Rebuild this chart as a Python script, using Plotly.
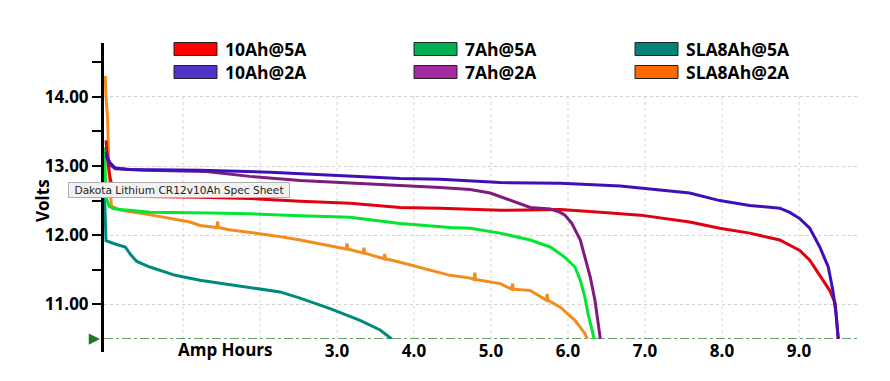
import plotly.graph_objects as go

# ---------------- data ----------------
series_names = ["10Ah@5A", "10Ah@2A", "7Ah@5A", "7Ah@2A", "SLA8Ah@5A", "SLA8Ah@2A"]

ah_10ah_5a = [0.0, 0.02, 0.05, 0.09, 0.2, 0.5, 1.22, 1.87, 2.52, 3.17, 3.82, 4.34, 5.12, 5.90,
              6.42, 6.94, 7.58, 7.97, 8.36, 8.75, 9.01, 9.14, 9.27, 9.40, 9.47, 9.51]
v_10ah_5a = [13.37, 13.10, 12.85, 12.65, 12.58, 12.56, 12.55, 12.53, 12.49, 12.46, 12.40, 12.39, 12.36, 12.37,
             12.33, 12.29, 12.19, 12.10, 12.03, 11.93, 11.78, 11.64, 11.42, 11.20, 11.02, 10.50]

ah_10ah_2a = [0.0, 0.02, 0.05, 0.12, 0.3, 1.22, 2.13, 2.91, 3.82, 4.34, 5.12, 5.90, 6.68, 7.58,
              7.97, 8.36, 8.75, 8.88, 9.01, 9.14, 9.27, 9.38, 9.44, 9.48, 9.51]
v_10ah_2a = [13.20, 13.12, 13.05, 12.97, 12.95, 12.94, 12.91, 12.87, 12.82, 12.81, 12.76, 12.75, 12.71, 12.61,
             12.50, 12.43, 12.39, 12.33, 12.24, 12.10, 11.83, 11.54, 11.20, 10.87, 10.50]

ah_7ah_5a = [-0.02, -0.01, 0.0, 0.04, 0.1, 0.3, 0.57, 1.35, 1.87, 2.52, 3.17, 3.82, 4.47, 4.73, 5.12,
             5.51, 5.77, 5.96, 6.09, 6.16, 6.22, 6.26, 6.31, 6.34]
v_7ah_5a = [13.27, 12.90, 12.55, 12.42, 12.38, 12.36, 12.33, 12.32, 12.31, 12.28, 12.26, 12.17, 12.11, 12.10, 12.03,
            11.93, 11.83, 11.68, 11.54, 11.35, 11.10, 10.87, 10.62, 10.50]

ah_7ah_2a = [0.0, 0.05, 0.12, 0.5, 1.3, 1.87, 2.52, 3.17, 3.82, 4.34, 4.73, 4.99, 5.25, 5.51, 5.77,
             5.90, 5.96, 6.05, 6.16, 6.22, 6.29, 6.35, 6.39, 6.42]
v_7ah_2a = [13.15, 13.02, 12.96, 12.94, 12.92, 12.85, 12.79, 12.75, 12.72, 12.69, 12.66, 12.61, 12.50, 12.40, 12.38,
            12.33, 12.29, 12.17, 11.93, 11.68, 11.39, 11.06, 10.73, 10.50]

ah_sla_5a = [-0.02, 0.0, 0.1, 0.25, 0.32, 0.4, 0.57, 0.9, 1.22, 1.87, 2.26, 2.52, 2.91, 3.30, 3.56, 3.71]
v_sla_5a = [12.60, 11.92, 11.88, 11.83, 11.72, 11.62, 11.54, 11.42, 11.35, 11.25, 11.18, 11.09, 10.94, 10.77, 10.63, 10.50]

ah_sla_2a = [-0.01, 0.0, 0.02, 0.04, 0.07, 0.2, 0.6, 1.09, 1.22, 1.44, 1.45, 1.46, 1.6, 1.87, 2.2, 2.52,
             3.12, 3.13, 3.14, 3.34, 3.35, 3.36, 3.61, 3.62, 3.63, 3.82, 4.34, 4.47, 4.73, 4.78, 4.79, 4.80,
             5.12, 5.27, 5.28, 5.29, 5.51, 5.72, 5.73, 5.74, 5.90, 6.09, 6.22, 6.25]
v_sla_2a = [14.30, 14.00, 13.70, 12.90, 12.42, 12.36, 12.29, 12.19, 12.14, 12.11, 12.20, 12.11, 12.08, 12.04, 11.99, 11.93,
            11.80, 11.88, 11.80, 11.74, 11.82, 11.74, 11.66, 11.73, 11.66, 11.61, 11.45, 11.42, 11.38, 11.36, 11.46, 11.36,
            11.30, 11.22, 11.30, 11.22, 11.20, 11.06, 11.15, 11.06, 10.96, 10.77, 10.58, 10.50]

y_tick_vals = [11, 12, 13, 14]
y_tick_text = ["11.00", "12.00", "13.00", "14.00"]
y_minor_vals = [11.5, 12.5, 13.5, 14.5]
x_tick_vals = [3, 4, 5, 6, 7, 8, 9]
x_tick_text = ["3.0", "4.0", "5.0", "6.0", "7.0", "8.0", "9.0"]
x_grid_vals = [1, 2, 3, 4, 5, 6, 7, 8, 9]
cutoff_v = 10.5
x_title = "Amp Hours"
y_title = "Volts"
note_text = "Dakota Lithium CR12v10Ah Spec Sheet"

# ---------------- styles ----------------
line_colors = ["#e00010", "#3d10b8", "#00e632", "#7d1c7d", "#008a7c", "#f28c1c"]
legend_colors = ["#ff0000", "#5032c8", "#00b050", "#a52aa0", "#00847a", "#ff6a00"]
FONT = "Open Sans"
NOTE_FONT = "DejaVu Sans"

# page body has an 8px default margin: shrink the figure so it fills the window exactly
PAGE_OFF = 8
WIN_W, WIN_H = 890, 381
W, H = WIN_W - PAGE_OFF, WIN_H - PAGE_OFF
# plot-area edges in window pixels
L, R, T, B = 104, 858, 43, 339
PX_PER_AH = 77.0
PX_PER_V = 69.2
X0_PX = 106.0

def px(xp):
    return (xp - L) / (R - L)

def py(yp):
    return (B - yp) / (B - T)

xs = [ah_10ah_5a, ah_10ah_2a, ah_7ah_5a, ah_7ah_2a, ah_sla_5a, ah_sla_2a]
vs = [v_10ah_5a, v_10ah_2a, v_7ah_5a, v_7ah_2a, v_sla_5a, v_sla_2a]

fig = go.Figure()
order = [5, 4, 2, 0, 3, 1]
for i in order:
    fig.add_trace(go.Scatter(x=xs[i], y=vs[i], mode="lines", name=series_names[i],
                             line=dict(color=line_colors[i], width=3), showlegend=False))

x_min = (L - X0_PX) / PX_PER_AH
x_max = (R - X0_PX) / PX_PER_AH
y_max = cutoff_v + (B - T) / PX_PER_V

shapes = []
annotations = []

for gx in x_grid_vals:
    shapes.append(dict(type="line", xref="x", yref="y", x0=gx, x1=gx, y0=cutoff_v, y1=14.06,
                       line=dict(color="#d4d4d4", width=1, dash="dot"), layer="below"))
shapes.append(dict(type="line", xref="x", yref="y", x0=x_min, x1=x_max, y0=cutoff_v, y1=cutoff_v,
                   line=dict(color="#3f7f3f", width=1.5, dash="dashdot"), layer="below"))
shapes.append(dict(type="line", xref="paper", yref="paper", x0=px(102.5), x1=px(102.5),
                   y0=0, y1=py(352), line=dict(color="black", width=3)))

col_rect_x = [174, 414, 635]
row_y = [49, 72]
for k, name in enumerate(series_names):
    col = [0, 0, 1, 1, 2, 2][k]
    row = [0, 1, 0, 1, 0, 1][k]
    x0 = col_rect_x[col]
    yc = row_y[row]
    shapes.append(dict(type="rect", xref="paper", yref="paper",
                       x0=px(x0), x1=px(x0 + 43), y0=py(yc + 6.5), y1=py(yc - 6.5),
                       fillcolor=legend_colors[k], line=dict(color="#222222", width=1)))
    annotations.append(dict(xref="paper", yref="paper", x=px(x0 + 49), y=py(yc),
                            xanchor="left", yanchor="middle", showarrow=False, text=name,
                            font=dict(family=FONT, size=17.5, color="black", weight="bold")))

annotations.append(dict(xref="paper", yref="paper", x=px(179), y=py(190), xanchor="center", yanchor="middle",
                        showarrow=False, text=note_text, width=220, height=14,
                        font=dict(family=NOTE_FONT, size=10.6, color="#222222"),
                        bgcolor="#f2f2f2", bordercolor="#b0b0b0", borderwidth=1, borderpad=0))
annotations.append(dict(xref="paper", yref="paper", x=px(42), y=py(201), xanchor="center", yanchor="middle",
                        showarrow=False, text=y_title, textangle=-90,
                        font=dict(family=FONT, size=17, color="black", weight="bold")))
annotations.append(dict(xref="paper", yref="paper", x=px(225), y=py(349), xanchor="center", yanchor="middle",
                        showarrow=False, text=x_title,
                        font=dict(family=FONT, size=17, color="black", weight="bold")))
annotations.append(dict(xref="paper", yref="y", x=px(100), y=cutoff_v, ax=-10, ay=0, text="",
                        showarrow=True, arrowhead=2, arrowsize=0.9, arrowwidth=2.5, arrowcolor="#1f7a1f"))

fig.update_layout(
    width=W, height=H,
    margin=dict(l=L - PAGE_OFF, r=WIN_W - R, t=T - PAGE_OFF, b=WIN_H - B, pad=0),
    plot_bgcolor="white", paper_bgcolor="white",
    showlegend=False,
    shapes=shapes, annotations=annotations,
    xaxis=dict(range=[x_min, x_max], showgrid=False, zeroline=False, showline=False, ticks="",
               tickmode="array", tickvals=x_tick_vals, ticktext=x_tick_text,
               tickfont=dict(family=FONT, size=17, color="black", weight="bold")),
    yaxis=dict(range=[cutoff_v, y_max], showgrid=True, gridcolor="#d0d0d0", griddash="dot", gridwidth=1,
               zeroline=False, showline=True, linecolor="black", linewidth=3,
               ticks="outside", ticklen=9, tickwidth=2, tickcolor="black",
               tickmode="array", tickvals=y_tick_vals, ticktext=y_tick_text,
               tickfont=dict(family=FONT, size=17, color="black", weight="bold"),
               minor=dict(ticks="outside", tickvals=y_minor_vals, ticklen=9, tickwidth=2,
                          tickcolor="black", showgrid=False)),
)

fig.write_html("out.html")
